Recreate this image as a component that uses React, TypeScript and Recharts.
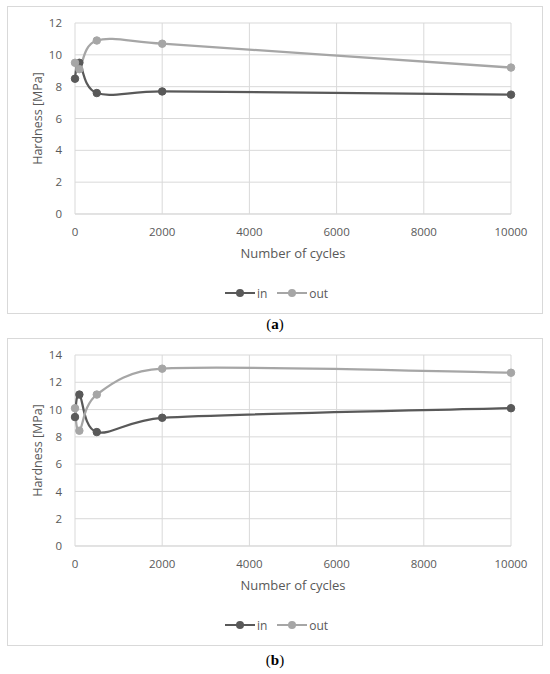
import React from "react"
import { LineChart, Line, XAxis, YAxis, CartesianGrid, Legend } from "recharts"

const cycles = [0, 100, 500, 2000, 10000]
const xTicks = [0, 2000, 4000, 6000, 8000, 10000]

const inA = [8.5, 9.5, 7.6, 7.7, 7.5]
const outA = [9.5, 9.1, 10.9, 10.7, 9.2]
const yTicksA = [0, 2, 4, 6, 8, 10, 12]

const inB = [9.45, 11.1, 8.35, 9.4, 10.1]
const outB = [10.1, 8.45, 11.1, 13.0, 12.7]
const yTicksB = [0, 2, 4, 6, 8, 10, 12, 14]

const IN_COLOR = "#595959"
const OUT_COLOR = "#a6a6a6"
const GRID = "#d9d9d9"
const FONT = "'Open Sans', sans-serif"

const dist = (a: number[], b: number[]) => Math.hypot(a[0] - b[0], a[1] - b[1])

// Excel-like smoothing: bezier arms 1/6 of neighbour span, capped at half the segment
function excelSmooth(context: any) {
  let pts: number[][] = []
  return {
    areaStart() {},
    areaEnd() {},
    lineStart() {
      pts = []
    },
    point(x: number, y: number) {
      pts.push([+x, +y])
    },
    lineEnd() {
      const n = pts.length
      if (!n) return
      context.moveTo(pts[0][0], pts[0][1])
      for (let i = 0; i < n - 1; i++) {
        const p0 = pts[Math.max(i - 1, 0)]
        const p1 = pts[i]
        const p2 = pts[i + 1]
        const p3 = pts[Math.min(i + 2, n - 1)]
        const d02 = dist(p0, p2)
        const d12 = dist(p1, p2)
        const d13 = dist(p1, p3)
        let f0 = 1 / 6
        let f1 = 1 / 6
        if (d02 / 6 >= d12 / 2 && d02 > 0) f0 = d12 / d02 / 2
        if (d13 / 6 >= d12 / 2 && d13 > 0) f1 = d12 / d13 / 2
        context.bezierCurveTo(
          p1[0] + (p2[0] - p0[0]) * f0,
          p1[1] + (p2[1] - p0[1]) * f0,
          p2[0] - (p3[0] - p1[0]) * f1,
          p2[1] - (p3[1] - p1[1]) * f1,
          p2[0],
          p2[1]
        )
      }
    },
  }
}

function LegendContent() {
  const item = (color: string, label: string) => (
    <div style={{ display: "flex", alignItems: "center", marginRight: 10 }}>
      <svg width={30} height={10}>
        <line x1={0} y1={5} x2={30} y2={5} stroke={color} strokeWidth={2} />
        <circle cx={15} cy={5} r={4} fill={color} />
      </svg>
      <span style={{ marginLeft: 2, fontSize: 12, color: IN_COLOR, fontFamily: FONT }}>{label}</span>
    </div>
  )
  return (
    <div style={{ display: "flex", justifyContent: "center", height: 20, alignItems: "center", position: "relative", left: 22 }}>
      {item(IN_COLOR, "in")}
      {item(OUT_COLOR, "out")}
    </div>
  )
}

function HardnessChart({ inVals, outVals, yTicks }: { inVals: number[]; outVals: number[]; yTicks: number[] }) {
  const data = cycles.map((c, i) => ({ cycles: c, in: inVals[i], out: outVals[i] }))
  const tick = { fill: IN_COLOR, fontSize: 11.5, fontFamily: FONT }
  return (
    <LineChart width={534} height={306} data={data} margin={{ top: 16, right: 31, left: 0, bottom: 10 }}>
      <CartesianGrid stroke={GRID} strokeWidth={1} />
      <XAxis
        dataKey="cycles"
        type="number"
        domain={[0, 10000]}
        ticks={xTicks}
        tickLine={false}
        axisLine={{ stroke: GRID }}
        tick={tick}
        tickMargin={8}
        height={69}
        label={(props: any) => {
          const vb = props.viewBox
          return (
            <text x={vb.x + vb.width / 2} y={vb.y + 39} textAnchor="middle" dominantBaseline="central" fill={IN_COLOR} fontSize={13} fontFamily={FONT}>
              Number of cycles
            </text>
          )
        }}
      />
      <YAxis
        type="number"
        domain={[yTicks[0], yTicks[yTicks.length - 1]]}
        ticks={yTicks}
        tickLine={false}
        axisLine={false}
        tick={tick}
        tickMargin={7}
        width={67}
        label={(props: any) => {
          const vb = props.viewBox
          const cx = vb.x + 29
          const cy = vb.y + vb.height / 2
          return (
            <text x={cx} y={cy} transform={`rotate(-90 ${cx} ${cy})`} textAnchor="middle" dominantBaseline="central" fill={IN_COLOR} fontSize={12.5} fontFamily={FONT}>
              Hardness [MPa]
            </text>
          )
        }}
      />
      <Legend verticalAlign="bottom" content={<LegendContent />} />
      <Line type={excelSmooth as any} dataKey="in" name="in" stroke={IN_COLOR} strokeWidth={2.25} dot={{ r: 3.75, fill: IN_COLOR, stroke: IN_COLOR, strokeWidth: 1 }} isAnimationActive={false} />
      <Line type={excelSmooth as any} dataKey="out" name="out" stroke={OUT_COLOR} strokeWidth={2.25} dot={{ r: 3.75, fill: OUT_COLOR, stroke: OUT_COLOR, strokeWidth: 1 }} isAnimationActive={false} />
    </LineChart>
  )
}

const boxStyle = (top: number): React.CSSProperties => ({
  position: "absolute",
  left: 7,
  top,
  width: 536,
  height: 308,
  border: `1px solid ${GRID}`,
  boxSizing: "border-box",
  background: "#fff",
})

const captionStyle = (top: number): React.CSSProperties => ({
  position: "absolute",
  left: 0,
  width: 550,
  top,
  textAlign: "center",
  fontFamily: "'Liberation Serif', serif",
  fontSize: 15,
  lineHeight: "16px",
})

export default function App() {
  return (
    <div style={{ position: "absolute", left: 0, top: 0, width: 550, height: 674, background: "#fff" }}>
      <div style={boxStyle(6)}>
        <HardnessChart inVals={inA} outVals={outA} yTicks={yTicksA} />
      </div>
      <div style={captionStyle(316)}>
        (<b>a</b>)
      </div>
      <div style={boxStyle(338)}>
        <HardnessChart inVals={inB} outVals={outB} yTicks={yTicksB} />
      </div>
      <div style={captionStyle(652)}>
        (<b>b</b>)
      </div>
    </div>
  )
}
